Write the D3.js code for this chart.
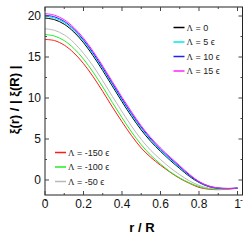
<!DOCTYPE html>
<html>
<head>
<meta charset="utf-8">
<script src="https://cdn.jsdelivr.net/npm/d3@7"></script>
<style>
  body { margin: 0; background: #fff; }
  svg { display: block; font-family: "Liberation Sans", Arial, sans-serif; }
  .frame { fill: none; stroke: #222; stroke-width: 1; }
  .tick { stroke: #444; stroke-width: 1; }
  .tl { font-size: 12px; fill: #111; }
  .curve { fill: none; stroke-width: 1; }
  .leg { font-size: 9px; fill: #222; }
</style>
</head>
<body>
<div id="chart"></div>
<script>
// ===== Data =====
const rVals = [0, 0.05, 0.1, 0.15, 0.2, 0.25, 0.3, 0.35, 0.4, 0.45, 0.5,
               0.55, 0.6, 0.65, 0.7, 0.75, 0.8, 0.85, 0.9, 0.95, 1.0];

const xiM150 = [17.15, 17.0, 16.45, 15.5, 14.2, 12.6, 10.8, 8.9, 7.1, 5.4, 3.9,
                2.75, 1.8, 0.95, 0.2, -0.4, -0.9, -1.12, -1.18, -1.12, -1.0];
const xiM100 = [17.75, 17.55, 17.0, 16.05, 14.75, 13.15, 11.35, 9.45, 7.6, 5.85, 4.3,
                3.0, 1.95, 1.0, 0.25, -0.35, -0.8, -1.08, -1.15, -1.1, -1.0];
const xiM50  = [18.45, 18.25, 17.7, 16.75, 15.45, 13.9, 12.1, 10.2, 8.35, 6.55, 4.95,
                3.6, 2.5, 1.5, 0.65, -0.1, -0.65, -0.98, -1.1, -1.08, -1.0];
const xi0    = [19.75, 19.55, 19.0, 18.05, 16.75, 15.15, 13.35, 11.45, 9.55, 7.75, 6.1,
                4.7, 3.5, 2.4, 1.4, 0.45, -0.3, -0.8, -1.02, -1.05, -1.0];
const xiP5   = [19.95, 19.75, 19.2, 18.25, 16.95, 15.35, 13.55, 11.65, 9.75, 7.95, 6.3,
                4.85, 3.6, 2.5, 1.5, 0.55, -0.25, -0.76, -1.0, -1.04, -1.0];
const xiP10  = [20.1, 19.9, 19.35, 18.4, 17.1, 15.5, 13.7, 11.8, 9.9, 8.1, 6.45,
                5.0, 3.75, 2.65, 1.62, 0.6, -0.22, -0.74, -0.98, -1.03, -1.0];
const xiP15  = [20.3, 20.1, 19.55, 18.6, 17.3, 15.7, 13.9, 12.0, 10.1, 8.3, 6.6,
                5.15, 3.9, 2.8, 1.75, 0.7, -0.18, -0.72, -0.97, -1.03, -1.0];

const xTicks = [0, 0.2, 0.4, 0.6, 0.8, 1];
const xMinor = [0.1, 0.3, 0.5, 0.7, 0.9];
const yTicks = [0, 5, 10, 15, 20];
const yMinor = [-2.5, 2.5, 7.5, 12.5, 17.5];

const series = [
  { name: "-150", ys: xiM150, color: "#ff1a1a" },
  { name: "-100", ys: xiM100, color: "#22ee22" },
  { name: "-50",  ys: xiM50,  color: "#b8b8b8" },
  { name: "0",    ys: xi0,    color: "#000000" },
  { name: "5",    ys: xiP5,   color: "#00e8e8" },
  { name: "10",   ys: xiP10,  color: "#2020ff" },
  { name: "15",   ys: xiP15,  color: "#ff22ff" },
];

const legendTop = ["0", "5", "10", "15"];
const legendBottom = ["-150", "-100", "-50"];

// ===== SVG config =====
const W = 252, H = 241;
const P = { left: 45, right: 242.5, top: 7, bottom: 195 };

const svg = d3.select("#chart").append("svg")
  .attr("width", W).attr("height", H);

const x = d3.scaleLinear().domain([0, 1.026]).range([P.left, P.right]);
const y = d3.scaleLinear().domain([-1.83, 21.1]).range([P.bottom, P.top]);

// clip so curves stay in frame
svg.append("clipPath").attr("id", "clip")
  .append("rect")
  .attr("x", P.left).attr("y", P.top)
  .attr("width", P.right - P.left).attr("height", P.bottom - P.top);

// ===== Curves =====
const line = d3.line()
  .x(d => x(d[0]))
  .y(d => y(d[1]))
  .curve(d3.curveCatmullRom);

svg.append("g").attr("clip-path", "url(#clip)")
  .selectAll("path")
  .data(series)
  .enter()
  .append("path")
  .attr("class", "curve")
  .attr("stroke", d => d.color)
  .attr("d", d => line(rVals.map((r, i) => [r, d.ys[i]])));

// ===== Frame + ticks (inward, mirrored) =====
svg.append("rect")
  .attr("class", "frame")
  .attr("x", P.left).attr("y", P.top)
  .attr("width", P.right - P.left).attr("height", P.bottom - P.top);

const tg = svg.append("g");
function xTick(v, len) {
  tg.append("line").attr("class", "tick")
    .attr("x1", x(v)).attr("x2", x(v))
    .attr("y1", P.bottom).attr("y2", P.bottom - len);
  tg.append("line").attr("class", "tick")
    .attr("x1", x(v)).attr("x2", x(v))
    .attr("y1", P.top).attr("y2", P.top + len);
}
function yTick(v, len) {
  tg.append("line").attr("class", "tick")
    .attr("x1", P.left).attr("x2", P.left + len)
    .attr("y1", y(v)).attr("y2", y(v));
  tg.append("line").attr("class", "tick")
    .attr("x1", P.right).attr("x2", P.right - len)
    .attr("y1", y(v)).attr("y2", y(v));
}
xTicks.forEach(v => xTick(v, 4));
xMinor.forEach(v => xTick(v, 2));
yTicks.forEach(v => yTick(v, 4));
yMinor.forEach(v => yTick(v, 2));

svg.append("g").selectAll("text")
  .data(xTicks)
  .enter()
  .append("text")
  .attr("class", "tl")
  .attr("x", d => x(d))
  .attr("y", 208)
  .attr("text-anchor", "middle")
  .text(d => d);

svg.append("g").selectAll("text")
  .data(yTicks)
  .enter()
  .append("text")
  .attr("class", "tl")
  .attr("x", 41)
  .attr("y", d => y(d) + 4)
  .attr("text-anchor", "end")
  .text(d => d);

// ===== Axis titles =====
svg.append("text")
  .attr("x", 142).attr("y", 232)
  .attr("text-anchor", "middle")
  .style("font-size", "13px")
  .style("font-weight", "bold")
  .text("r / R");

svg.append("text")
  .attr("transform", "translate(19,100) rotate(-90)")
  .attr("text-anchor", "middle")
  .style("font-size", "13px")
  .style("font-weight", "bold")
  .text("ξ(r) / | ξ(R) |");

// ===== Legends =====
function drawLegend(names, x0, y0, dy) {
  names.forEach((n, i) => {
    const s = series.find(d => d.name === n);
    const yy = y0 + i * dy;
    svg.append("line")
      .attr("x1", x0).attr("x2", x0 + 11)
      .attr("y1", yy).attr("y2", yy)
      .attr("stroke", s.color)
      .attr("stroke-width", 1.5);
    const t = svg.append("text")
      .attr("class", "leg")
      .attr("x", x0 + 13)
      .attr("y", yy + 3);
    t.append("tspan").style("font-family", "'Liberation Serif', serif").text("Λ");
    t.append("tspan").text(n === "0" ? " = 0" : ` = ${n} ϵ`);
  });
}
drawLegend(legendTop, 173.5, 27.5, 14.5);
drawLegend(legendBottom, 55, 152.5, 14.5);
</script>
</body>
</html>
